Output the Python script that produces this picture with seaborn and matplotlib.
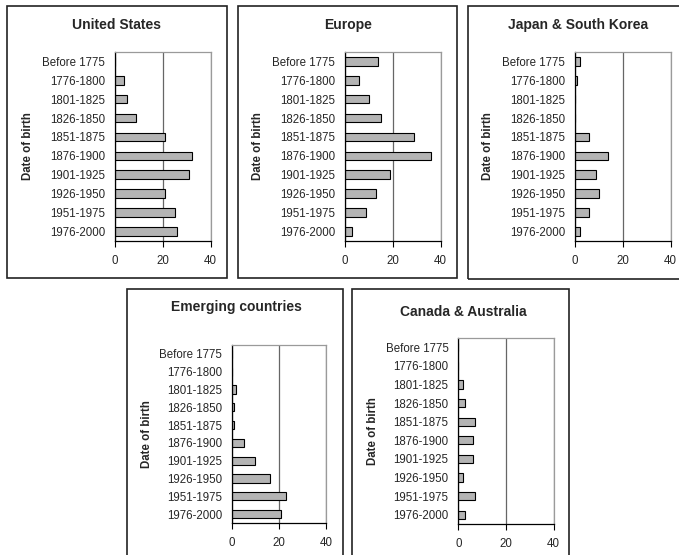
import numpy as np
import pandas as pd
import matplotlib
matplotlib.use("Agg")
import matplotlib.pyplot as plt
from matplotlib.patches import Rectangle
import seaborn as sns

periods = ['Before 1775', '1776-1800', '1801-1825', '1826-1850', '1851-1875',
           '1876-1900', '1901-1925', '1926-1950', '1951-1975', '1976-2000']

us = [0, 4, 5, 9, 21, 32, 31, 21, 25, 26]
europe = [14, 6, 10, 15, 29, 36, 19, 13, 9, 3]
japan_korea = [2, 1, 0, 0, 6, 14, 9, 10, 6, 2]
emerging = [0, 0, 2, 1, 1, 5, 10, 16, 23, 21]
canada_australia = [0, 0, 2, 3, 7, 6, 6, 2, 7, 3]

regions = ['United States', 'Europe', 'Japan & South Korea',
           'Emerging countries', 'Canada & Australia']
values = [us, europe, japan_korea, emerging, canada_australia]

sns.set_style("white")
plt.rcParams['font.family'] = ['Liberation Sans', 'DejaVu Sans']

W, H = 679, 555
fig = plt.figure(figsize=(W / 100, H / 100), dpi=100)

# pixel layout: plot area (x0, x1, top, bottom), frame box (x0, y0, x1, y1),
# title centre, y-label x
layout = [
    ((114.7, 210.7, 52, 240.7), (7, 6, 226.7, 278), (117, 25), 27.7),
    ((344.7, 440.7, 52, 240.7), (237.7, 6, 457, 278), (348, 25), 257.7),
    ((574.7, 670.7, 52, 240.7), (467.7, 6, 700, 279), (578, 25), 487.7),
    ((231.7, 326.3, 345, 523), (127, 289, 342.7, 570), (236.7, 306.7), 146.7),
    ((458.3, 553.7, 338, 524), (352.3, 289, 569.3, 570), (463, 311.7), 373.3),
]


def fx(x):
    return x / W


def fy(y):
    return 1 - y / H


for name, vals, (area, box, tpos, ylx) in zip(regions, values, layout):
    x0, x1, top, bottom = area
    ax = fig.add_axes([fx(x0), fy(bottom), fx(x1) - fx(x0), fy(top) - fy(bottom)])
    df = pd.DataFrame({'period': periods, 'share': vals})
    sns.barplot(data=df, x='share', y='period', orient='h', ax=ax,
                color='#b4b4b4', edgecolor='black', linewidth=0.8,
                width=0.45, saturation=1)
    ax.set_xlim(0, 40)
    ax.set_ylim(9.5, -0.5)
    ax.set_xticks([0, 20, 40])
    ax.set_yticks(np.arange(-0.5, 10, 1), minor=True)
    ax.tick_params(axis='y', which='major', length=0, pad=7, labelsize=8.3)
    ax.tick_params(axis='y', which='minor', length=4, width=0.8, color='black', direction='out')
    ax.tick_params(axis='x', which='major', length=4, width=0.8, color='black',
                   direction='out', pad=6, labelsize=8.3, bottom=True)
    ax.set_xlabel('')
    ax.set_ylabel('')
    ax.grid(axis='x', color='#666666', linewidth=0.9)
    ax.set_axisbelow(True)
    for s in ['left', 'bottom']:
        ax.spines[s].set_color('black')
        ax.spines[s].set_linewidth(0.9)
    for s in ['top', 'right']:
        ax.spines[s].set_color('#9a9a9a')
        ax.spines[s].set_linewidth(0.9)

    bx0, by0, bx1, by1 = box
    fig.patches.append(Rectangle((fx(bx0), fy(by1)), fx(bx1) - fx(bx0), fy(by0) - fy(by1),
                                 transform=fig.transFigure, fill=False,
                                 edgecolor='#222222', linewidth=1.2))
    fig.text(fx(tpos[0]), fy(tpos[1]), name, ha='center', va='center',
             fontsize=10, fontweight='bold')
    fig.text(fx(ylx), fy((top + bottom) / 2), 'Date of birth', rotation=90,
             ha='center', va='center', fontsize=8.3, fontweight='bold')

fig.savefig('out.png', dpi=100)
